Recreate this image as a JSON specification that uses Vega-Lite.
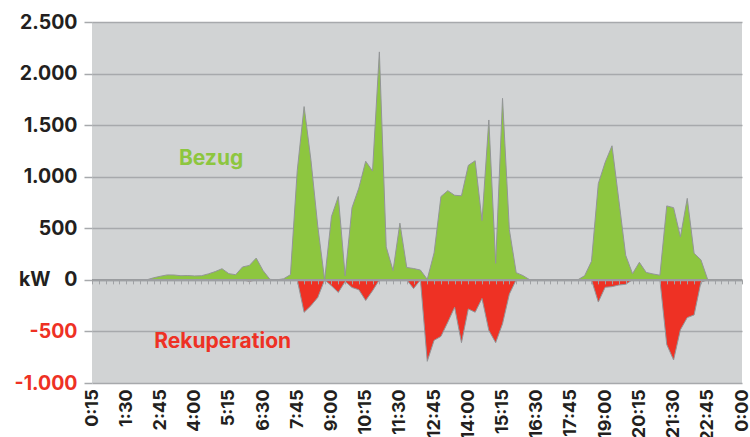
{
  "$schema": "https://vega.github.io/schema/vega-lite/v6.json",
  "width": 650,
  "height": 361,
  "autosize": {"type": "none"},
  "padding": {"left": 92, "top": 22, "right": 8, "bottom": 54},
  "background": "#ffffff",
  "config": {
    "view": {"fill": "#d1d3d4", "stroke": null},
    "font": "Inter"
  },
  "data": {
    "values": [
      {"i": 1, "t": "0:15", "bezug": 0, "rek": 0},
      {"i": 2, "t": "0:30", "bezug": 0, "rek": 0},
      {"i": 3, "t": "0:45", "bezug": 0, "rek": 0},
      {"i": 4, "t": "1:00", "bezug": 0, "rek": 0},
      {"i": 5, "t": "1:15", "bezug": 0, "rek": 0},
      {"i": 6, "t": "1:30", "bezug": 0, "rek": 0},
      {"i": 7, "t": "1:45", "bezug": 0, "rek": 0},
      {"i": 8, "t": "2:00", "bezug": 0, "rek": 0},
      {"i": 9, "t": "2:15", "bezug": 0, "rek": 0},
      {"i": 10, "t": "2:30", "bezug": 20, "rek": 0},
      {"i": 11, "t": "2:45", "bezug": 35, "rek": 0},
      {"i": 12, "t": "3:00", "bezug": 48, "rek": 0},
      {"i": 13, "t": "3:15", "bezug": 47, "rek": 0},
      {"i": 14, "t": "3:30", "bezug": 40, "rek": 0},
      {"i": 15, "t": "3:45", "bezug": 42, "rek": 0},
      {"i": 16, "t": "4:00", "bezug": 38, "rek": 0},
      {"i": 17, "t": "4:15", "bezug": 40, "rek": 0},
      {"i": 18, "t": "4:30", "bezug": 58, "rek": 0},
      {"i": 19, "t": "4:45", "bezug": 80, "rek": 0},
      {"i": 20, "t": "5:00", "bezug": 108, "rek": 0},
      {"i": 21, "t": "5:15", "bezug": 60, "rek": 0},
      {"i": 22, "t": "5:30", "bezug": 50, "rek": 0},
      {"i": 23, "t": "5:45", "bezug": 125, "rek": 0},
      {"i": 24, "t": "6:00", "bezug": 140, "rek": -15},
      {"i": 25, "t": "6:15", "bezug": 211, "rek": 0},
      {"i": 26, "t": "6:30", "bezug": 90, "rek": 0},
      {"i": 27, "t": "6:45", "bezug": 5, "rek": 0},
      {"i": 28, "t": "7:00", "bezug": 0, "rek": 0},
      {"i": 29, "t": "7:15", "bezug": 10, "rek": 0},
      {"i": 30, "t": "7:30", "bezug": 50, "rek": 0},
      {"i": 31, "t": "7:45", "bezug": 1060, "rek": 0},
      {"i": 32, "t": "8:00", "bezug": 1680, "rek": -315},
      {"i": 33, "t": "8:15", "bezug": 1160, "rek": -250},
      {"i": 34, "t": "8:30", "bezug": 520, "rek": -170},
      {"i": 35, "t": "8:45", "bezug": 0, "rek": 0},
      {"i": 36, "t": "9:00", "bezug": 615, "rek": -58},
      {"i": 37, "t": "9:15", "bezug": 808, "rek": -122},
      {"i": 38, "t": "9:30", "bezug": 38, "rek": -15},
      {"i": 39, "t": "9:45", "bezug": 700, "rek": -74},
      {"i": 40, "t": "10:00", "bezug": 890, "rek": -96},
      {"i": 41, "t": "10:15", "bezug": 1150, "rek": -200},
      {"i": 42, "t": "10:30", "bezug": 1055, "rek": -106},
      {"i": 43, "t": "10:45", "bezug": 2210, "rek": 0},
      {"i": 44, "t": "11:00", "bezug": 320, "rek": 0},
      {"i": 45, "t": "11:15", "bezug": 90, "rek": 0},
      {"i": 46, "t": "11:30", "bezug": 550, "rek": 0},
      {"i": 47, "t": "11:45", "bezug": 120, "rek": 0},
      {"i": 48, "t": "12:00", "bezug": 110, "rek": -85},
      {"i": 49, "t": "12:15", "bezug": 95, "rek": 0},
      {"i": 50, "t": "12:30", "bezug": 5, "rek": -790},
      {"i": 51, "t": "12:45", "bezug": 262, "rek": -586},
      {"i": 52, "t": "13:00", "bezug": 808, "rek": -548},
      {"i": 53, "t": "13:15", "bezug": 865, "rek": -410},
      {"i": 54, "t": "13:30", "bezug": 820, "rek": -266},
      {"i": 55, "t": "13:45", "bezug": 815, "rek": -609},
      {"i": 56, "t": "14:00", "bezug": 1110, "rek": -282},
      {"i": 57, "t": "14:15", "bezug": 1155, "rek": -314},
      {"i": 58, "t": "14:30", "bezug": 575, "rek": -180},
      {"i": 59, "t": "14:45", "bezug": 1550, "rek": -490},
      {"i": 60, "t": "15:00", "bezug": 160, "rek": -609},
      {"i": 61, "t": "15:15", "bezug": 1760, "rek": -426},
      {"i": 62, "t": "15:30", "bezug": 487, "rek": -138},
      {"i": 63, "t": "15:45", "bezug": 70, "rek": 0},
      {"i": 64, "t": "16:00", "bezug": 41, "rek": 0},
      {"i": 65, "t": "16:15", "bezug": 0, "rek": 0},
      {"i": 66, "t": "16:30", "bezug": 0, "rek": 0},
      {"i": 67, "t": "16:45", "bezug": 0, "rek": 0},
      {"i": 68, "t": "17:00", "bezug": 0, "rek": 0},
      {"i": 69, "t": "17:15", "bezug": 0, "rek": 0},
      {"i": 70, "t": "17:30", "bezug": 0, "rek": 0},
      {"i": 71, "t": "17:45", "bezug": 0, "rek": 0},
      {"i": 72, "t": "18:00", "bezug": 0, "rek": 0},
      {"i": 73, "t": "18:15", "bezug": 40, "rek": 0},
      {"i": 74, "t": "18:30", "bezug": 180, "rek": 0},
      {"i": 75, "t": "18:45", "bezug": 933, "rek": -215},
      {"i": 76, "t": "19:00", "bezug": 1140, "rek": -72},
      {"i": 77, "t": "19:15", "bezug": 1300, "rek": -66},
      {"i": 78, "t": "19:30", "bezug": 774, "rek": -50},
      {"i": 79, "t": "19:45", "bezug": 239, "rek": -43},
      {"i": 80, "t": "20:00", "bezug": 60, "rek": 0},
      {"i": 81, "t": "20:15", "bezug": 170, "rek": 0},
      {"i": 82, "t": "20:30", "bezug": 72, "rek": 0},
      {"i": 83, "t": "20:45", "bezug": 57, "rek": 0},
      {"i": 84, "t": "21:00", "bezug": 45, "rek": 0},
      {"i": 85, "t": "21:15", "bezug": 717, "rek": -627},
      {"i": 86, "t": "21:30", "bezug": 700, "rek": -777},
      {"i": 87, "t": "21:45", "bezug": 417, "rek": -484},
      {"i": 88, "t": "22:00", "bezug": 790, "rek": -366},
      {"i": 89, "t": "22:15", "bezug": 258, "rek": -340},
      {"i": 90, "t": "22:30", "bezug": 194, "rek": -22},
      {"i": 91, "t": "22:45", "bezug": 0, "rek": 0},
      {"i": 92, "t": "23:00", "bezug": 0, "rek": 0},
      {"i": 93, "t": "23:15", "bezug": 0, "rek": 0},
      {"i": 94, "t": "23:30", "bezug": 0, "rek": 0},
      {"i": 95, "t": "23:45", "bezug": 0, "rek": 0},
      {"i": 96, "t": "0:00", "bezug": 0, "rek": 0}
    ]
  },
  "encoding": {
    "x": {
      "field": "i",
      "type": "quantitative",
      "scale": {"domain": [1, 96], "nice": false, "zero": false},
      "axis": {
        "orient": "bottom",
        "offset": -103.14,
        "values": [1,2,3,4,5,6,7,8,9,10,11,12,13,14,15,16,17,18,19,20,21,22,23,24,25,26,27,28,29,30,31,32,33,34,35,36,37,38,39,40,41,42,43,44,45,46,47,48,49,50,51,52,53,54,55,56,57,58,59,60,61,62,63,64,65,66,67,68,69,70,71,72,73,74,75,76,77,78,79,80,81,82,83,84,85,86,87,88,89,90,91,92,93,94,95,96],
        "labelExpr": "(datum.value - 1) % 5 == 0 ? (floor(datum.value * 15 / 60) % 24) + ':' + ((datum.value * 15) % 60 == 0 ? '00' : '' + ((datum.value * 15) % 60)) : ''",
        "title": null,
        "grid": false,
        "domainColor": "#9d9fa2",
        "domainWidth": 2,
        "ticks": true,
        "tickSize": 4,
        "tickColor": "#a0a2a5",
        "tickWidth": 1,
        "labelAngle": -90,
        "labelAlign": "right",
        "labelBaseline": "middle",
        "labelPadding": 105,
        "labelFont": "Inter",
        "labelFontSize": 18,
        "labelFontWeight": "bold",
        "labelColor": "#231f20",
        "labelOverlap": false,
        "labelBound": false,
        "labelFlush": false,
        "zindex": 1
      }
    }
  },
  "layer": [
    {
      "mark": {"type": "area", "color": "#8dc63f", "stroke": "#939598", "strokeWidth": 1, "opacity": 1, "fillOpacity": 1},
      "encoding": {
        "y": {
          "field": "bezug",
          "type": "quantitative",
          "scale": {"domain": [-1000, 2500], "nice": false, "zero": false},
          "axis": {
            "values": [-1000, -500, 0, 500, 1000, 1500, 2000, 2500],
            "title": null,
            "grid": true,
            "gridColor": "#a7a9ac",
            "gridWidth": 1.5,
            "domain": false,
            "tickSize": 8,
            "tickColor": "#a7a9ac",
            "tickWidth": 1.5,
            "labelPadding": 7,
            "labelFont": "Inter",
            "labelFontSize": 19.5,
            "labelFontWeight": "bold",
            "labelExpr": "datum.value == 0 ? 'kW\u00a0\u00a0 0' : (datum.value < 0 ? '-' : '') + replace(format(abs(datum.value), ','), ',', '.')",
            "labelColor": {"condition": {"test": "datum.value < 0", "value": "#ee3124"}, "value": "#231f20"},
            "labelOverlap": false,
            "labelBound": false,
            "zindex": 0
          }
        }
      }
    },
    {
      "mark": {"type": "area", "color": "#ee3124", "stroke": "#939598", "strokeWidth": 1, "opacity": 1, "fillOpacity": 1},
      "encoding": {
        "y": {"field": "rek", "type": "quantitative"}
      }
    },
    {
      "data": {
        "values": [
          {"i": 18.4, "v": 1174, "label": "Bezug"},
          {"i": 20.1, "v": -601, "label": "Rekuperation"}
        ]
      },
      "mark": {"type": "text", "font": "Inter", "fontSize": 21, "fontWeight": "bold", "align": "center", "baseline": "middle"},
      "encoding": {
        "y": {"field": "v", "type": "quantitative"},
        "text": {"field": "label"},
        "color": {
          "field": "label",
          "type": "nominal",
          "scale": {"domain": ["Bezug", "Rekuperation"], "range": ["#8dc63f", "#ee3124"]},
          "legend": null
        }
      }
    }
  ]
}
